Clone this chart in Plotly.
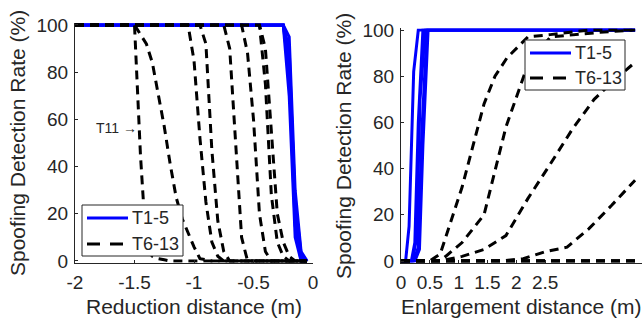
import plotly.graph_objects as go

W, H = 642, 327

# ---------------- Left panel: Reduction distance ----------------
left_blue_x = [-2, -0.25, -0.2, -0.15, -0.1, -0.05]
left_blue = [
    [100, 100, 90, 20, 2, 0],
    [100, 100, 80, 15, 0, 0],
    [100, 100, 95, 30, 4, 0],
    [100, 100, 70, 10, 0, 0],
    [100, 100, 85, 25, 3, 0],
]

left_dash = [
    ([-2, -1.5, -1.45, -1.4, -1.35, -1.3, -1.25, -1.2, -0.05],
     [100, 100, 45, 5, 2, 1, 0.5, 0, 0]),
    ([-2, -1.5, -1.45, -1.4, -1.35, -1.3, -1.25, -1.2, -1.15, -1.1, -1.05, -1.0, -0.95, -0.9, -0.85, -0.05],
     [100, 100, 96, 92, 84, 70, 57, 41, 27, 18, 12, 6, 1, 0.5, 0, 0]),
    ([-2, -1.05, -1.0, -0.95, -0.9, -0.85, -0.8, -0.75, -0.05],
     [100, 100, 85, 52, 25, 8, 2, 0, 0]),
    ([-2, -0.95, -0.9, -0.85, -0.8, -0.75, -0.7, -0.05],
     [100, 100, 92, 47, 17, 4, 0, 0]),
    ([-2, -0.75, -0.7, -0.65, -0.6, -0.55, -0.05],
     [100, 100, 90, 50, 10, 0, 0]),
    ([-2, -0.6, -0.55, -0.5, -0.45, -0.4, -0.35, -0.05],
     [100, 100, 88, 60, 20, 4, 0, 0]),
    ([-2, -0.45, -0.4, -0.35, -0.3, -0.25, -0.2, -0.05],
     [100, 100, 75, 28, 8, 2, 0, 0]),
    ([-2, -0.45, -0.4, -0.35, -0.3, -0.25, -0.2, -0.15, -0.05],
     [100, 100, 90, 55, 20, 8, 2, 0, 0]),
]

# ---------------- Right panel: Enlargement distance ----------------
right_blue = [
    ([0, 0.08, 0.14, 0.22, 0.3, 4.06], [0, 0, 15, 82, 100, 100]),
    ([0, 0.18, 0.24, 0.3, 0.38, 4.06], [0, 0, 8, 60, 100, 100]),
    ([0, 0.2, 0.27, 0.33, 0.42, 4.06], [0, 0, 10, 70, 100, 100]),
    ([0, 0.22, 0.3, 0.36, 0.45, 4.06], [0, 0, 6, 55, 100, 100]),
    ([0, 0.24, 0.32, 0.38, 0.47, 4.06], [0, 0, 5, 50, 100, 100]),
]

right_dash = [
    ([0, 0.5, 0.68, 1.06, 1.44, 1.63, 1.84, 2.2, 2.59, 3.28, 4.06],
     [0, 0, 3, 32, 68, 80, 88, 97, 98, 100, 100]),
    ([0, 0.68, 1.06, 1.44, 1.82, 2.2, 2.59, 2.97, 3.45, 4.06],
     [0, 0, 8, 20, 58, 85, 97, 98, 99, 100]),
    ([0, 0.68, 1.06, 1.44, 1.82, 2.2, 2.59, 2.97, 3.35, 3.73, 4.06],
     [0, 0, 2, 5, 11, 27, 42, 57, 70, 79, 86]),
    ([0, 1.72, 2.12, 2.5, 2.88, 3.26, 3.65, 4.06],
     [0, 0, 1, 4, 6, 14, 24, 35]),
    ([0, 4.06], [0, 0]),
    ([0, 4.06], [0, 0]),
    ([0, 4.06], [0, 0]),
    ([0, 4.06], [0, 0]),
]

series_names = ["T1-5", "T6-13"]
y_ticks = [0, 20, 40, 60, 80, 100]
left_xticks = [-2, -1.5, -1, -0.5, 0]
left_xtext = ["-2", "-1.5", "-1", "-0.5", "0"]
right_xticks = [0, 0.5, 1, 1.5, 2, 2.5]
right_xtext = ["0", "0.5", "1", "1.5", "2", "2.5"]

BLUE = "rgb(0,0,255)"
INK = "#262626"
FONT = "Liberation Sans, Arial, Helvetica, sans-serif"
DASH = "9px,6px"

fig = go.Figure()

for ys in left_blue:
    fig.add_trace(go.Scatter(x=left_blue_x, y=ys, mode="lines", xaxis="x", yaxis="y",
                             line=dict(color=BLUE, width=3), name=series_names[0]))
for xs, ys in left_dash:
    fig.add_trace(go.Scatter(x=xs, y=ys, mode="lines", xaxis="x", yaxis="y",
                             line=dict(color="black", width=3, dash=DASH), name=series_names[1]))
for xs, ys in right_blue:
    fig.add_trace(go.Scatter(x=xs, y=ys, mode="lines", xaxis="x2", yaxis="y2",
                             line=dict(color=BLUE, width=3), name=series_names[0]))
for xs, ys in right_dash:
    fig.add_trace(go.Scatter(x=xs, y=ys, mode="lines", xaxis="x2", yaxis="y2",
                             line=dict(color="black", width=3, dash=DASH), name=series_names[1]))

def xpx(p):
    return p / W

def ypx(p):
    return 1 - p / H

# y axes extended slightly so lines at 0 and 100 are not half clipped
PAD = 0.7          # data units
YPX = 236 / 100.0  # pixels per percent (left panel)
YPX2 = 231 / 100.0

axis_common = dict(showgrid=False, zeroline=False, showline=True, linecolor=INK, linewidth=1,
                   ticks="inside", ticklen=3, tickcolor=INK, mirror=False, automargin=False,
                   tickfont=dict(family=FONT, size=19, color=INK))

fig.update_layout(
    width=W, height=H, margin=dict(l=0, r=0, t=0, b=0, autoexpand=False),
    paper_bgcolor="white", plot_bgcolor="white",
    font=dict(family=FONT, color=INK),
    showlegend=False,
    xaxis=dict(domain=[xpx(75), xpx(313)], range=[-2, 0], tickvals=left_xticks,
               ticktext=left_xtext, anchor="y", ticklabelstandoff=3, **axis_common),
    yaxis=dict(domain=[ypx(261 + PAD * YPX), ypx(25 - PAD * YPX)], range=[-PAD, 100 + PAD],
               tickvals=y_ticks, anchor="x", ticklabelstandoff=2, **axis_common),
    xaxis2=dict(domain=[xpx(401), 1.0], range=[0, 4.18], tickvals=right_xticks,
                ticktext=right_xtext, anchor="y2", ticklabelstandoff=3, **axis_common),
    yaxis2=dict(domain=[ypx(261 + PAD * YPX2), ypx(30 - PAD * YPX2)], range=[-PAD, 100 + PAD],
                tickvals=y_ticks, anchor="x2", ticklabelstandoff=2, **axis_common),
)

# legend boxes (MATLAB-style), drawn as shapes + text
def add_legend(left, top, right, bottom, row1, row2):
    fig.add_shape(type="rect", xref="paper", yref="paper", layer="above",
                  x0=xpx(left), x1=xpx(right), y0=ypx(bottom), y1=ypx(top),
                  line=dict(color=INK, width=1), fillcolor="white")
    fig.add_shape(type="line", xref="paper", yref="paper", layer="above",
                  x0=xpx(left + 5), x1=xpx(left + 46), y0=ypx(row1), y1=ypx(row1),
                  line=dict(color=BLUE, width=3))
    fig.add_shape(type="line", xref="paper", yref="paper", layer="above",
                  x0=xpx(left + 5), x1=xpx(left + 47), y0=ypx(row2), y1=ypx(row2),
                  line=dict(color="black", width=3, dash="13px,10px"))
    for name, row in zip(series_names, [row1, row2]):
        fig.add_annotation(xref="paper", yref="paper", x=xpx(left + 48), y=ypx(row),
                           text=name, showarrow=False, xanchor="left", yanchor="middle",
                           font=dict(family=FONT, size=18, color=INK))

add_legend(82, 205, 183, 256, 218, 244)
add_legend(525, 40, 625, 90, 53, 78)

ann = [
    dict(text="Spoofing Detection Rate (%)", x=xpx(17), y=ypx(143), textangle=-90),
    dict(text="Spoofing Detection Rate (%)", x=xpx(343), y=ypx(146), textangle=-90),
    dict(text="Reduction distance (m)", x=xpx(194), y=ypx(306)),
    dict(text="Enlargement distance (m)", x=xpx(521), y=ypx(306)),
]
for a in ann:
    fig.add_annotation(xref="paper", yref="paper", showarrow=False, xanchor="center",
                       yanchor="middle", font=dict(family=FONT, size=21, color=INK), **a)

fig.add_annotation(xref="x", yref="y", x=-1.462, y=56.5, text="T11 →", showarrow=False,
                   xanchor="right", yanchor="middle",
                   font=dict(family=FONT, size=14, color=INK))

fig.write_html("out.html")
